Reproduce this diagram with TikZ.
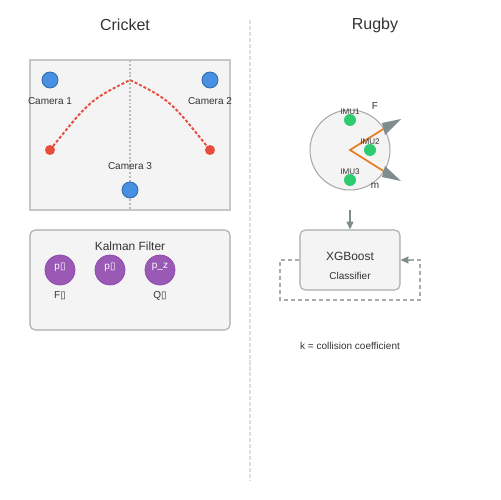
\documentclass[tikz,border=0pt]{standalone}
\usepackage{fontspec}
\setmainfont{Liberation Sans}
\newfontfamily\boxfont{DejaVu Sans}
\usetikzlibrary{arrows.meta}

\definecolor{panelfill}{HTML}{F4F4F4}
\definecolor{paneledge}{HTML}{AAAAAA}
\definecolor{camblue}{HTML}{4A90E2}
\definecolor{camedge}{HTML}{2F6DB5}
\definecolor{balllred}{HTML}{E74C3C}
\definecolor{kalpurple}{HTML}{9B59B6}
\definecolor{kaledge}{HTML}{8E44AD}
\definecolor{imugreen}{HTML}{2ECC71}
\definecolor{forceorange}{HTML}{E67E22}
\definecolor{arrowgray}{HTML}{7F8C8D}
\definecolor{txt}{HTML}{333333}

\newcommand{\tofu}{{\boxfont\char"25AF}}

\tikzset{
    panel/.style={draw=paneledge,fill=panelfill,line width=0.6pt},
    cam/.style={circle,draw=camedge,fill=camblue,minimum size=0.32cm,inner sep=0pt,line width=0.5pt},
    camlabel/.style={text=txt,font=\fontsize{5.7}{6.5}\selectfont,inner sep=0pt},
    kstate/.style={circle,draw=kaledge,fill=kalpurple,minimum size=0.6cm,inner sep=0pt,
        text=white,font=\fontsize{5.7}{6.5}\selectfont},
    imu/.style={circle,fill=imugreen,minimum size=0.24cm,inner sep=0pt},
    imulabel/.style={text=txt,font=\fontsize{4.6}{5}\selectfont,inner sep=0pt},
}

\begin{document}
\begin{tikzpicture}[x=0.02cm,y=-0.02cm]
\useasboundingbox (0,0) rectangle (500,500);

% titles and divider
\node[text=txt,font=\fontsize{9.1}{11}\selectfont] (crickettitle) at (125,25) {Cricket};
\node[text=txt,font=\fontsize{9.1}{11}\selectfont] (rugbytitle) at (375,25) {Rugby};
\draw[black!13,line width=0.6pt,dash pattern=on 2.3pt off 1.1pt] (250,20) -- (250,480);

% cricket field
\draw[panel,draw=black!22] (30,60) rectangle (230,210);
\draw[black!27,line width=0.6pt,dash pattern=on 1.1pt off 1.1pt] (130,60) -- (130,210);

% ball trajectory
\draw[balllred,line width=1.1pt,dash pattern=on 1.7pt off 1.1pt]
    (50,150) .. controls (90,100) .. (130,80) .. controls (170,100) .. (210,150);
\node[circle,fill=balllred,minimum size=0.2cm,inner sep=0pt] (release) at (50,150) {};
\node[circle,fill=balllred,minimum size=0.2cm,inner sep=0pt] (bounce) at (210,150) {};

% cameras
\node[cam] (cam1) at (50,80) {};
\node[cam] (cam2) at (210,80) {};
\node[cam] (cam3) at (130,190) {};
\node[camlabel] at (50,101) {Camera 1};
\node[camlabel] at (210,101) {Camera 2};
\node[camlabel] at (130,166) {Camera 3};

% kalman filter
\draw[panel,rounded corners=3pt] (30,230) rectangle (230,330);
\node[text=txt,font=\fontsize{6.8}{8}\selectfont] (kalman) at (130,246) {Kalman Filter};
\node[kstate] (px) at (60,270) {};
\node[kstate] (py) at (110,270) {};
\node[kstate] (pz) at (160,270) {};
\node[text=white,font=\fontsize{5.7}{6.5}\selectfont] at (60,267) {p\tofu};
\node[text=white,font=\fontsize{5.7}{6.5}\selectfont] at (110,267) {p\tofu};
\node[text=white,font=\fontsize{5.7}{6.5}\selectfont] at (160,267) {p\_z};
\node[camlabel] (fmat) at (60,296) {F\tofu};
\node[camlabel] (qmat) at (160,296) {Q\tofu};

% rugby ball
\node[circle,panel,minimum size=1.6cm,inner sep=0pt] (ball) at (350,150) {};
\coordinate (centre) at (350,150);
\draw[forceorange,line width=1pt] (385,128) -- (centre) -- (385,172);
\fill[arrowgray] (382,123) -- (401,119) -- (385,135) -- cycle;
\fill[arrowgray] (385,166) -- (401,181) -- (382,177) -- cycle;
\node[imu] (imu1) at (350,120) {};
\node[imu] (imu2) at (370,150) {};
\node[imu] (imu3) at (350,180) {};
\node[imulabel] at (350,112) {IMU1};
\node[imulabel] at (370,142) {IMU2};
\node[imulabel] at (350,172) {IMU3};
\node[camlabel] at (375,106) {F};
\node[camlabel] at (375,186) {m};

% classifier
\node[panel,rounded corners=3pt,minimum width=2cm,minimum height=1.2cm] (xgb) at (350,260) {};
\node[text=txt,font=\fontsize{6.8}{8}\selectfont] at (350,256) {XGBoost};
\node[camlabel] at (350,276) {Classifier};
\coordinate (feed) at (350,210);
\draw[arrowgray,line width=0.6pt,-{Triangle[length=4.5pt,width=4pt]}] (feed) -- (xgb.north);
\draw[paneledge,line width=0.6pt,dash pattern=on 2.3pt off 1.7pt]
    (xgb.west) -- (280,260) -- (280,300) -- (420,300) -- (420,260) -- (xgb.east);
\draw[arrowgray,-{Triangle[length=4.5pt,width=4pt]}] (410,260) -- (xgb.east);

\node[camlabel] (kcoef) at (350,346) {k = collision coefficient};

\end{tikzpicture}
\end{document}
